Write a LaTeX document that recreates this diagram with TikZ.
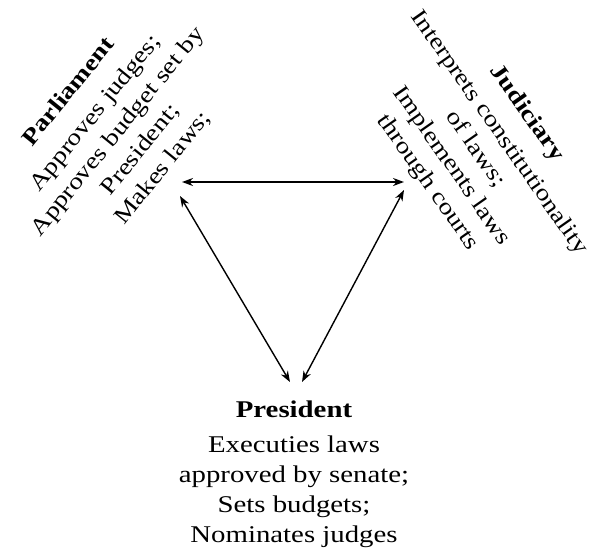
\documentclass[tikz,border=0pt]{standalone}
\usepackage{fontspec}
\setmainfont[FakeStretch=1.2]{Liberation Serif}
\usetikzlibrary{arrows.meta}
\tikzset{
	duty/.style={align=center, inner sep=0pt, font=\fontsize{24}{30}\selectfont},
	side/.style={duty, font=\fontsize{23}{29}\selectfont},
	link/.style={{Stealth[length=11pt,width=8pt]}-{Stealth[length=11pt,width=8pt]}, line width=1.4pt}
}
\def\head#1{\textbf{#1}\\[5pt]}

\begin{document}
\begin{tikzpicture}[x=1pt,y=-1pt]
		%%%%% START %%%%%
		\useasboundingbox (0,0) rectangle (594,552);
		
		\node[side, rotate=51] (parliament) at (116,130) {\head{Parliament}Approves judges;\\Approves budget set by\\President;\\Makes laws;};
		\node[side, rotate=-55] (judiciary) at (477,148) {\head{Judiciary}Interprets constitutionality\\of laws;\\Implements laws\\through courts};
		\node[duty, anchor=north] (president) at (294,401) {\head{President}Executies laws\\approved by senate;\\Sets budgets;\\Nominates judges};
		
		\coordinate (parlTop) at (182,182);
		\coordinate (judTop) at (404,182);
		\coordinate (parlLow) at (180,196);
		\coordinate (presLeft) at (290,382);
		\coordinate (judLow) at (404,190);
		\coordinate (presRight) at (302,382);
		
		\draw[link, line width=1.9pt] (parlTop) -- (judTop);
		\draw[link] (parlLow) -- (presLeft);
		\draw[link] (judLow) -- (presRight);
		%%%%% END %%%%%
\end{tikzpicture}
\end{document}
